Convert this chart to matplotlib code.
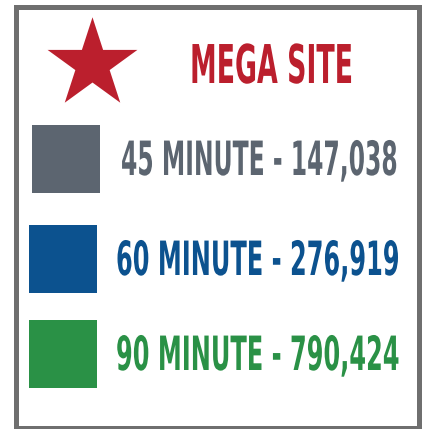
import matplotlib
matplotlib.use("Agg")
import matplotlib.pyplot as plt
from matplotlib.patches import Rectangle
from matplotlib.patheffects import AbstractPathEffect
from matplotlib.transforms import Affine2D

# Data
title = "MEGA SITE"
labels = ["45 MINUTE", "60 MINUTE", "90 MINUTE"]
values = [147038, 276919, 790424]
colors = ["#5c6570", "#0c528f", "#2a9146"]
title_color = "#bb1f2d"
border_color = "#6f6f6f"

FONT = ["Liberation Sans Narrow", "DejaVu Sans"]


# stretch text upward from its baseline so it reads like a condensed poster font
class Stretch(AbstractPathEffect):
    def __init__(self, text, sy):
        super().__init__()
        self.text = text
        self.sy = sy

    def draw_path(self, renderer, gc, tpath, affine, rgbFace=None):
        y0 = self.text.get_transform().transform(self.text.get_position())[1]
        aff = affine + Affine2D().translate(0, -y0).scale(1, self.sy).translate(0, y0)
        renderer.draw_path(gc, tpath, aff, rgbFace)


W, H = 427, 429
fig = plt.figure(figsize=(W / 100, H / 100), dpi=100)
ax = fig.add_axes([0, 0, 1, 1])
ax.set_xlim(0, W)
ax.set_ylim(H, 0)
ax.axis("off")

# frame
ax.add_patch(Rectangle((16.5, 6.5), 403, 421, fill=False,
                       edgecolor=border_color, linewidth=3.6))

# star + title
ax.scatter([92], [64], marker="*", s=68 ** 2, color=title_color, linewidths=0)
t_title = ax.text(190, 83, title, color=title_color, fontsize=38.5,
                  family=FONT, fontweight="bold", ha="left", va="baseline")

# rows
sq_x = [32, 29, 29]
sq_y = [125, 225, 320]
txt_x = [121, 116, 116]
base_y = [175, 275, 370]
rows = []
for i in range(len(labels)):
    ax.add_patch(Rectangle((sq_x[i], sq_y[i]), 68, 68, color=colors[i], lw=0))
    t = ax.text(txt_x[i], base_y[i], f"{labels[i]} - {values[i]:,}",
                color=colors[i], fontsize=34, family=FONT, fontweight="bold",
                ha="left", va="baseline")
    rows.append(t)

# fit widths to the reference, then stretch back up to the full height
fig.canvas.draw()
r = fig.canvas.get_renderer()
targets = [(t_title, 163), (rows[0], 277), (rows[1], 284), (rows[2], 284)]
for t, w in targets:
    s = w / t.get_window_extent(r).width
    t.set_fontsize(t.get_fontsize() * s)
    t.set_path_effects([Stretch(t, 1 / s)])

fig.savefig("out.png", dpi=100)
